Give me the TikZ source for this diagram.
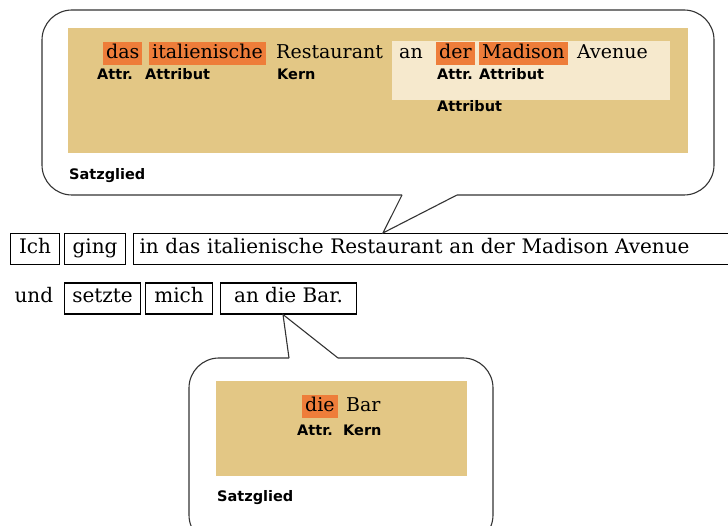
\documentclass[tikz,border=0pt]{standalone}
\usepackage{fontspec}
\setmainfont{DejaVu Serif}
\setsansfont{DejaVu Sans}
\begin{document}
\begin{tikzpicture}[x=1pt, y=-1pt,
  word/.style={anchor=base west, inner xsep=3pt, inner ysep=2.5pt, text height=14pt, text depth=4pt, font=\fontsize{19}{20}\selectfont},
  hl/.style={word, fill=hilite},
  tag/.style={anchor=base west, inner sep=0pt, font=\sffamily\bfseries\fontsize{14.5}{16}\selectfont},
  part/.style={draw, line width=1.1pt, anchor=west, inner xsep=6pt, inner ysep=6pt, text height=14pt, text depth=5pt, font=\fontsize{20}{21}\selectfont},
  bubble/.style={draw=black!80, line width=1.1pt, rounded corners=30pt}]
\definecolor{area}{HTML}{E3C785}
\definecolor{inner}{HTML}{F6E9CD}
\definecolor{hilite}{HTML}{EE7D3A}
\useasboundingbox (0,0) rectangle (728,526);
\clip (0,0) rectangle (728,526);

% sentence
\node[part, minimum width=49pt] (ich) at (10,249) {Ich};
\node[part, minimum width=61pt] (ging) at (64,249) {ging};
\node[part, text width=600pt, align=left] (phrase) at (133,249) {in das italienische Restaurant an der Madison Avenue};
\node[part, draw=none, inner xsep=0pt] (und) at (14,298.5) {und};
\node[part, minimum width=76pt] (setzte) at (64,298.5) {setzte};
\node[part, minimum width=67pt] (mich) at (145,298.5) {mich};
\node[part, minimum width=136pt] (bar) at (220,298.5) {an die Bar.};

% upper bubble
\draw[bubble] (457,195) -- (714,195) -- (714,10) -- (42,10) -- (42,195) -- (402,195);
\draw[bubble, sharp corners] (402,195) -- ([xshift=250pt]phrase.north west) -- (457,195);
\fill[area] (68,28) rectangle (688,153);
\fill[inner] (392,41) rectangle (670,100);
\foreach \x/\w in {103/das, 149/italienische, 436/der, 479/Madison}
  \node[hl] (w-\w) at (\x,59) {\w};
\foreach \x/\w in {273/Restaurant, 396/an, 574/Avenue}
  \node[word] (w-\w) at (\x,59) {\w};
\foreach \x/\t in {97/Attr., 145/Attribut, 277/Kern, 437/Attr., 479/Attribut}
  \node[tag] (t-\x) at (\x,80) {\t};
\node[tag] (t-whole) at (437,112) {Attribut};
\node[tag] (sg-top) at (69,180) {Satzglied};

% lower bubble
\draw[bubble] (338,358) -- (493,358) -- (493,545) -- (189,545) -- (189,358) -- (289,358);
\draw[bubble, sharp corners] (289,358) -- ([xshift=63pt]bar.south west) -- (338,358);
\fill[area] (216,381) rectangle (467,476);
\node[hl] (b-die) at (302,411.5) {die};
\node[word] (b-bar) at (343,411.5) {Bar};
\node[tag] (b-attr) at (297,435) {Attr.};
\node[tag] (b-kern) at (343,435) {Kern};
\node[tag] (sg-low) at (217,501) {Satzglied};
\end{tikzpicture}
\end{document}
